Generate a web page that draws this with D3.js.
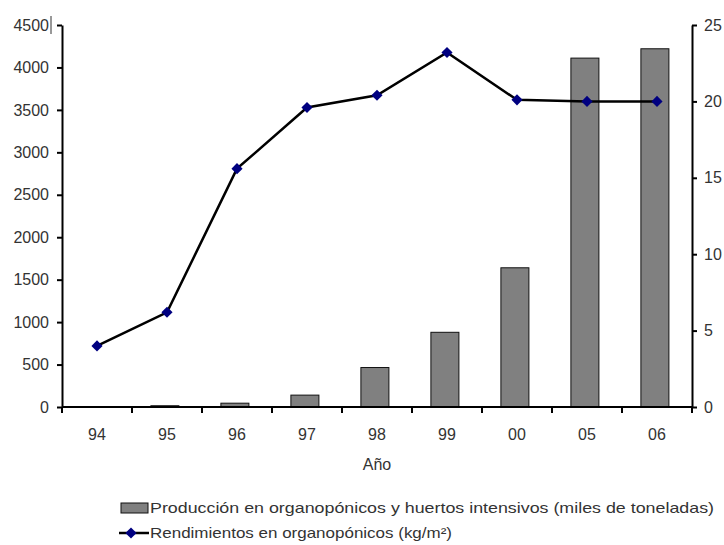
<html>
  <head>
    <meta charset="utf-8">
    <style>
      body { margin: 0; background: #fff; }
      text { font-family: "Liberation Sans", Arial, sans-serif; fill: #333; }
      .axis path, .axis line { stroke: #000; stroke-width: 2; }
    </style>
  </head>
<body>
  <svg width="724" height="545"></svg>
  <script src="https://cdnjs.cloudflare.com/ajax/libs/d3/7.8.5/d3.min.js"></script>
  <script>
    var categories = ["94", "95", "96", "97", "98", "99", "00", "05", "06"];
    var produccion = [0, 15, 45, 140, 465, 880, 1640, 4110, 4220];
    var rendimiento = [4.0, 6.2, 15.6, 19.6, 20.4, 23.2, 20.1, 20, 20];
    var leftTicks = [0, 500, 1000, 1500, 2000, 2500, 3000, 3500, 4000, 4500];
    var rightTicks = [0, 5, 10, 15, 20, 25];

    var svg = d3.select("svg");
    var plotL = 62, plotR = 692, plotT = 25, plotB = 407;

    var x = d3.scaleBand().domain(categories).range([plotL, plotR]).padding(0);
    var yL = d3.scaleLinear().domain([0, 4500]).range([plotB, plotT]);
    var yR = d3.scaleLinear().domain([0, 25]).range([plotB, plotT]);
    var bw = x.bandwidth();

    // bars
    svg.selectAll(".bar")
      .data(categories)
      .enter()
      .append("rect")
      .attr("class", "bar")
      .attr("x", function(d) { return x(d) + bw * 0.27; })
      .attr("width", bw * 0.4)
      .attr("y", function(d, i) { return yL(produccion[i]); })
      .attr("height", function(d, i) { return plotB - yL(produccion[i]); })
      .attr("fill", "#808080")
      .attr("stroke", "#111")
      .attr("stroke-width", 1);

    // left axis
    var gL = svg.append("g")
      .attr("class", "axis")
      .attr("transform", "translate(" + plotL + ",0)")
      .call(d3.axisLeft(yL).tickValues(leftTicks).tickFormat(d3.format("d"))
        .tickSize(5).tickSizeOuter(0).tickPadding(8));
    gL.selectAll("text").attr("fill", "#333").style("font-size", "16px");

    // cursor mark next to 4500
    svg.append("line")
      .attr("x1", 51).attr("x2", 51)
      .attr("y1", 16).attr("y2", 34)
      .attr("stroke", "#333").attr("stroke-width", 1);

    // right axis
    var gR = svg.append("g")
      .attr("class", "axis")
      .attr("transform", "translate(" + plotR + ",0)")
      .call(d3.axisRight(yR).tickValues(rightTicks).tickSize(5).tickSizeOuter(0).tickPadding(7));
    gR.selectAll("text").attr("fill", "#333").style("font-size", "16px");

    // bottom axis: labels at band centers, ticks on band edges
    var gX = svg.append("g")
      .attr("class", "axis")
      .attr("transform", "translate(0," + plotB + ")")
      .call(d3.axisBottom(x).tickSize(0).tickPadding(22));
    gX.select(".domain").remove();
    gX.selectAll("text").attr("fill", "#333").style("font-size", "16px");

    svg.append("line")
      .attr("x1", plotL).attr("x2", plotR)
      .attr("y1", plotB).attr("y2", plotB)
      .attr("stroke", "#000").attr("stroke-width", 2);

    var edges = categories.map(function(c) { return x(c); }).concat([plotR]);
    svg.selectAll(".xtick")
      .data(edges)
      .enter()
      .append("line")
      .attr("class", "xtick")
      .attr("x1", function(d) { return d; })
      .attr("x2", function(d) { return d; })
      .attr("y1", plotB)
      .attr("y2", plotB + 6)
      .attr("stroke", "#000")
      .attr("stroke-width", 2);

    svg.append("text")
      .attr("x", 377)
      .attr("y", 470)
      .attr("text-anchor", "middle")
      .style("font-size", "16px")
      .text("Año");

    // line series
    var line = d3.line()
      .x(function(d, i) { return x(categories[i]) + bw / 2; })
      .y(function(d) { return yR(d); });

    svg.append("path")
      .datum(rendimiento)
      .attr("d", line)
      .attr("fill", "none")
      .attr("stroke", "#000")
      .attr("stroke-width", 2.5);

    var diamond = d3.symbol().type(d3.symbolSquare).size(62);
    svg.selectAll(".pt")
      .data(rendimiento)
      .enter()
      .append("path")
      .attr("class", "pt")
      .attr("d", diamond)
      .attr("transform", function(d, i) {
        return "translate(" + (x(categories[i]) + bw / 2) + "," + yR(d) + ") rotate(45)";
      })
      .attr("fill", "#000080");

    // legend
    var lg = svg.append("g");
    lg.append("rect")
      .attr("x", 121).attr("y", 503)
      .attr("width", 27).attr("height", 10)
      .attr("fill", "#808080").attr("stroke", "#111").attr("stroke-width", 1);
    lg.append("text")
      .attr("x", 150).attr("y", 513)
      .style("font-size", "15px")
      .attr("textLength", 564)
      .attr("lengthAdjust", "spacingAndGlyphs")
      .text("Producción en organopónicos y huertos intensivos (miles de toneladas)");

    lg.append("line")
      .attr("x1", 119).attr("x2", 149)
      .attr("y1", 533).attr("y2", 533)
      .attr("stroke", "#000").attr("stroke-width", 2.5);
    lg.append("path")
      .attr("d", diamond)
      .attr("transform", "translate(131,533) rotate(45)")
      .attr("fill", "#000080");
    lg.append("text")
      .attr("x", 150).attr("y", 538)
      .style("font-size", "15px")
      .attr("textLength", 302)
      .attr("lengthAdjust", "spacingAndGlyphs")
      .text("Rendimientos en organopónicos (kg/m²)");
  </script>
</body>
</html>
